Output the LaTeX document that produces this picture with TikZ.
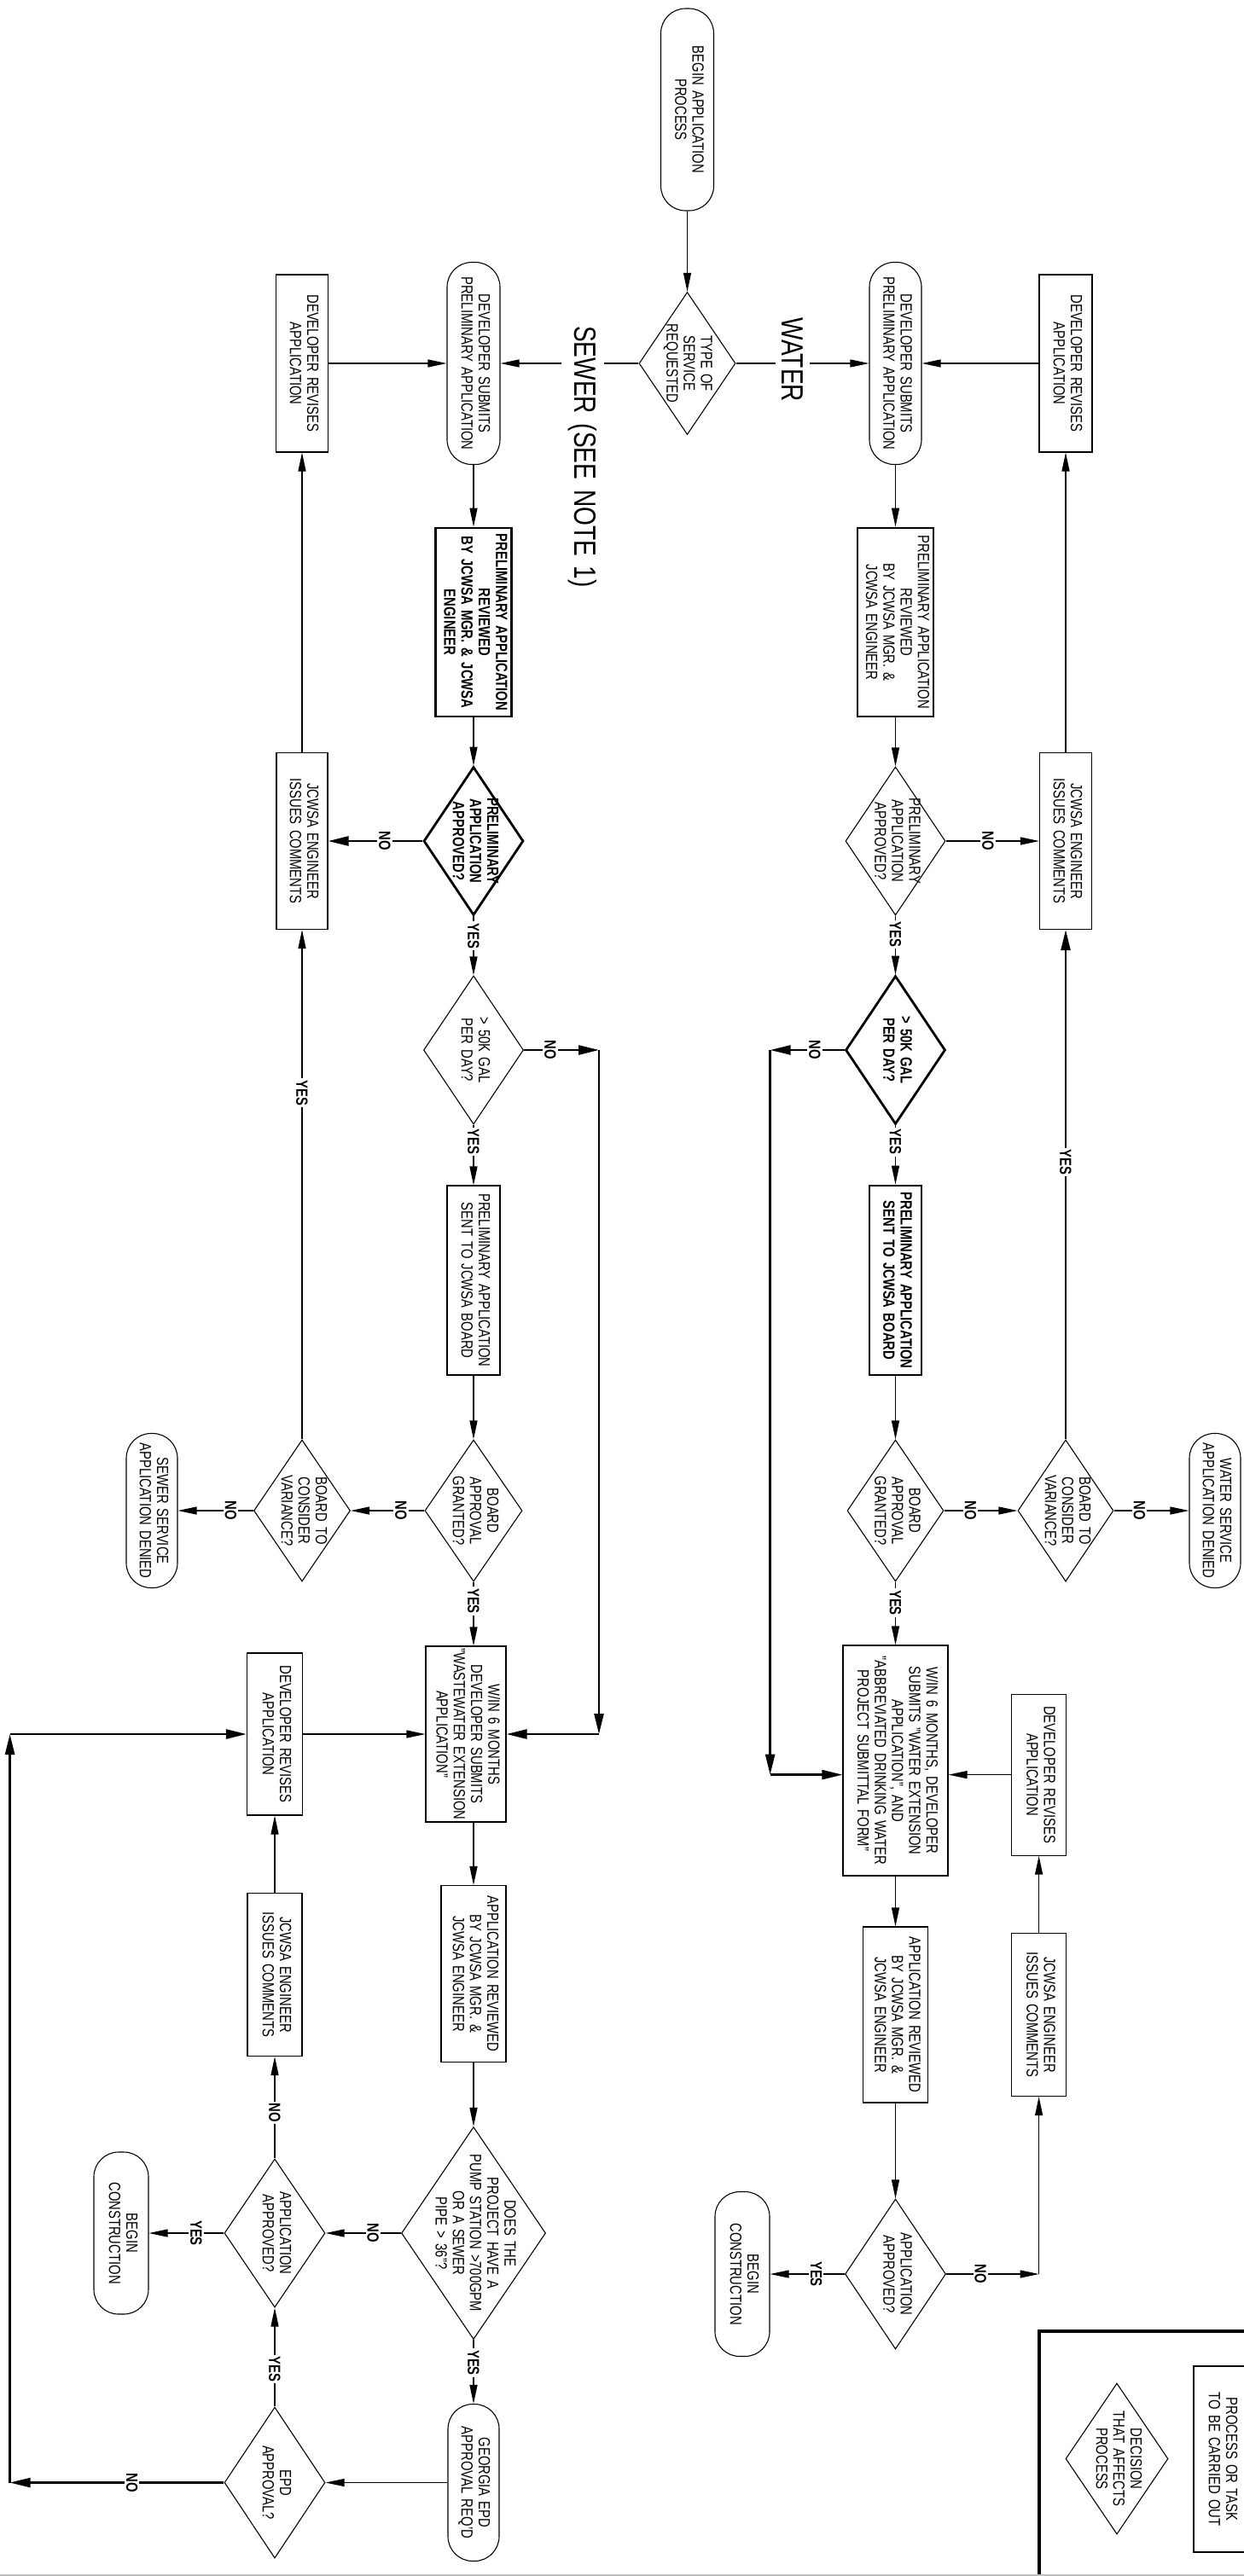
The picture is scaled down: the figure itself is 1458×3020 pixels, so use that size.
\documentclass[tikz,border=0pt]{standalone}
\usepackage{fontspec}
\setmainfont{Liberation Sans}[FakeStretch=0.78, WordSpace=1.5]
\usepackage{graphicx}
\usetikzlibrary{shapes.geometric,arrows.meta,calc}
\newcommand{\rtxt}[1]{\rotatebox{-90}{\begin{tabular}{@{}c@{}}#1\end{tabular}}}
\begin{document}
\begin{tikzpicture}[x=1pt,y=-1pt,
  base/.style={font=\fontsize{19}{20.2}\selectfont, inner sep=0pt},
  sz/.style 2 args={minimum width=#1pt, minimum height=#2pt},
  proc/.style={base, draw, line width=1.1pt, rectangle},
  procb/.style={proc, line width=2.8pt},
  term/.style={base, draw, line width=1.1pt, rectangle, rounded corners=29pt},
  dia/.style={base, draw, line width=1.1pt, diamond},
  diab/.style={dia, line width=2.8pt},
  txt/.style={base},
  btxt/.style={base, font=\fontsize{19}{20.2}\selectfont\bfseries},
  lab/.style={font=\fontsize{19}{20}\selectfont\bfseries, fill=white, inner sep=2pt, rotate=-90},
  big/.style={font=\fontsize{36}{38}\selectfont, fill=white, inner xsep=2pt, inner ysep=8pt, rotate=-90},
  arr/.style={line width=1.1pt, -{Triangle[length=22pt,width=9pt]}},
  arrb/.style={line width=2.4pt, -{Triangle[length=24pt,width=11pt]}}
]
\path[use as bounding box] (0,0) rectangle (1458,3020);
\clip (0,0) rectangle (1458,3020);

% ---------- top ----------
\node[term, sz={62}{237}] (begin) at (805.5,128.5) {\rtxt{BEGIN APPLICATION\\PROCESS}};
\node[dia, sz={113}{167}] (type) at (805.5,426) {};
\node[txt] (typet) at (type) {\rtxt{TYPE OF\\SERVICE\\REQUESTED}};

% ---------- water ----------
\node[term, sz={61}{237}] (wsub) at (1049.5,426) {\rtxt{DEVELOPER SUBMITS\\PRELIMINARY APPLICATION}};
\node[proc, sz={62}{208}] (wrev1) at (1249,426) {\rtxt{DEVELOPER REVISES\\APPLICATION}};
\node[procb, sz={89}{221}] (wrevd) at (1049.5,729.5) {\rtxt{PRELIMINARY APPLICATION\\REVIEWED\\BY JCWSA MGR. \&\\JCWSA ENGINEER}};
\node[dia, sz={117}{174}] (wpa) at (1049.5,986) {};
\node[txt] (wpat) at (wpa) {\rtxt{PRELIMINARY\\APPLICATION\\APPROVED?}};
\node[proc, sz={61}{207}] (wjc1) at (1249,986) {\rtxt{JCWSA ENGINEER\\ISSUES COMMENTS}};
\node[diab, sz={117}{174}] (w50) at (1049.5,1231) {};
\node[btxt] (w50t) at (w50) {\rtxt{> 50K GAL\\PER DAY?}};
\node[procb, sz={61}{222}, font=\fontsize{19}{20.2}\selectfont\bfseries] (wsent) at (1049.5,1501) {\rtxt{PRELIMINARY APPLICATION\\SENT TO JCWSA BOARD}};
\node[dia, sz={113}{166}] (wba) at (1049.5,1771) {};
\node[txt] (wbat) at (wba) {\rtxt{BOARD\\APPROVAL\\GRANTED?}};
\node[dia, sz={112}{166}] (wcv) at (1249,1771) {};
\node[txt] (wcvt) at (wcv) {\rtxt{BOARD TO\\CONSIDER\\VARIANCE?}};
\node[term, sz={60}{181}] (wden) at (1424,1771) {\rtxt{WATER SERVICE\\APPLICATION DENIED}};
\node[proc, sz={123}{270}] (wwin) at (1049.5,2064) {\rtxt{W/IN 6 MONTHS, DEVELOPER\\SUBMITS "WATER EXTENSION\\APPLICATION", AND\\"ABBREVIATED DRINKING WATER\\PROJECT SUBMITTAL FORM"}};
\node[proc, sz={64}{189}] (wrev2) at (1217.6,2080.6) {\rtxt{DEVELOPER REVISES\\APPLICATION}};
\node[proc, sz={75.5}{206}] (wrvw) at (1049.5,2362) {\rtxt{APPLICATION REVIEWED\\BY JCWSA MGR. \&\\JCWSA ENGINEER}};
\node[proc, sz={64}{191}] (wjc2) at (1217.6,2362) {\rtxt{JCWSA ENGINEER\\ISSUES COMMENTS}};
\node[dia, sz={118}{176}] (waa) at (1049.5,2666) {};
\node[txt] (waat) at (waa) {\rtxt{APPLICATION\\APPROVED?}};
\node[term, sz={64}{193}] (wbc) at (870,2666) {\rtxt{BEGIN\\CONSTRUCTION}};

% ---------- sewer ----------
\node[term, sz={62}{237}] (ssub) at (555,426) {\rtxt{DEVELOPER SUBMITS\\PRELIMINARY APPLICATION}};
\node[proc, sz={61}{208}] (srev1) at (354,426) {\rtxt{DEVELOPER REVISES\\APPLICATION}};
\node[procb, sz={89}{221}, font=\fontsize{19}{20.2}\selectfont\bfseries] (srevd) at (555,729.5) {\rtxt{PRELIMINARY APPLICATION\\REVIEWED\\BY JCWSA MGR. \& JCWSA\\ENGINEER}};
\node[diab, sz={117}{174}] (spa) at (555,986) {};
\node[btxt] (spat) at (spa) {\rtxt{PRELIMINARY\\APPLICATION\\APPROVED?}};
\node[proc, sz={60}{207}] (sjc1) at (354,986) {\rtxt{JCWSA ENGINEER\\ISSUES COMMENTS}};
\node[dia, sz={117}{174}] (s50) at (555,1231) {};
\node[txt] (s50t) at (s50) {\rtxt{> 50K GAL\\PER DAY?}};
\node[proc, sz={62}{222}] (ssent) at (555,1501) {\rtxt{PRELIMINARY APPLICATION\\SENT TO JCWSA BOARD}};
\node[dia, sz={114}{166}] (sba) at (555,1771) {};
\node[txt] (sbat) at (sba) {\rtxt{BOARD\\APPROVAL\\GRANTED?}};
\node[dia, sz={113}{166}] (scv) at (354,1771) {};
\node[txt] (scvt) at (scv) {\rtxt{BOARD TO\\CONSIDER\\VARIANCE?}};
\node[term, sz={60}{181}] (sden) at (178,1771) {\rtxt{SEWER SERVICE\\APPLICATION DENIED}};
\node[proc, sz={94}{206}] (swin) at (546,2033) {\rtxt{W/IN 6 MONTHS\\DEVELOPER SUBMITS\\"WASTEWATER EXTENSION\\APPLICATION"}};
\node[proc, sz={65}{190}] (srev2) at (322,2033) {\rtxt{DEVELOPER REVISES\\APPLICATION}};
\node[proc, sz={76}{207}] (srvw) at (555,2314) {\rtxt{APPLICATION REVIEWED\\BY JCWSA MGR. \&\\JCWSA ENGINEER}};
\node[proc, sz={64}{191}] (sjc2) at (322,2315) {\rtxt{JCWSA ENGINEER\\ISSUES COMMENTS}};
\node[dia, sz={169}{249}] (sdoes) at (555,2618) {};
\node[txt] (sdoest) at (sdoes) {\rtxt{DOES THE\\PROJECT HAVE A\\PUMP STATION >700GPM\\OR A SEWER\\PIPE > 36"?}};
\node[dia, sz={118}{174}] (saa) at (322,2618) {};
\node[txt] (saat) at (saa) {\rtxt{APPLICATION\\APPROVED?}};
\node[term, sz={64}{190}] (sbc) at (142,2618) {\rtxt{BEGIN\\CONSTRUCTION}};
\node[term, sz={60}{184}] (sgeo) at (555,2910.5) {\rtxt{GEORGIA EPD\\APPROVAL REQ'D}};
\node[dia, sz={118}{177}] (sepd) at (322,2910.5) {};
\node[txt] (sepdt) at (sepd) {\rtxt{EPD\\APPROVAL?}};

% ---------- legend ----------
\draw[line width=4pt] (1218,3040) -- (1218,2733) -- (1480,2733);
\node[dia, sz={120}{177}] (ldia) at (1309,2882.5) {};
\node[txt] (ldiat) at (ldia) {\rtxt{DECISION\\THAT AFFECTS\\PROCESS}};
\node[proc, sz={64}{218}] (lproc) at (1431,2883) {\rtxt{PROCESS OR TASK\\TO BE CARRIED OUT}};
\draw[black!25, line width=2pt] (0,3019) -- (1458,3019);

% ---------- connectors: top ----------
\draw[arr] (begin) -- (type);
\draw[arr] (type) -- (wsub);
\draw[arr] (type) -- (ssub);
\node[big] (watlab) at (929,422) {WATER};
\node[big] (sewlab) at (683,535.5) {SEWER (SEE NOTE 1)};

% ---------- connectors: water ----------
\draw[arr] (wrev1) -- (wsub);
\draw[arr] (wsub) -- (wrevd);
\draw[arr] (wrevd) -- (wpa);
\draw[arr] (wpa) -- node[lab,pos=0.45]{NO} (wjc1);
\draw[arr] (wjc1) -- (wrev1);
\draw[arr] (wpa) -- node[lab,pos=0.32]{YES} (w50);
\coordinate (wn1) at (902.6,1231);
\coordinate (wn2) at (902.6,2080.6);
\draw[arrb] (w50) -- node[lab,pos=0.4]{NO} (wn1);
\draw[arrb] (wn1) -- (wn2);
\draw[arrb] (wn2) -- (wn2 -| wwin.west);
\draw[arr] (w50) -- node[lab,pos=0.28]{YES} (wsent);
\draw[arr] (wsent) -- (wba);
\draw[arr] (wba) -- node[lab,pos=0.36]{NO} (wcv);
\draw[arrb] (wcv) -- node[lab,pos=0.544]{YES} (wjc1);
\draw[arr] (wcv) -- node[lab,pos=0.34]{NO} (wden);
\draw[arr] (wba) -- node[lab,pos=0.33]{YES} (wwin);
\draw[arr] (wrev2) -- (wrev2 -| wwin.east);
\draw[arr] (wwin) -- (wrvw);
\draw[arr] (wjc2) -- (wrev2);
\draw[arr] (wrvw) -- (waa);
\coordinate (wc) at (1217.6,2666);
\draw[arr] (waa) -- node[lab,pos=0.37]{NO} (wc);
\draw[arr] (wc) -- (wjc2);
\draw[arr] (waa) -- node[lab,pos=0.38]{YES} (wbc);

% ---------- connectors: sewer ----------
\draw[arr] (srev1) -- (ssub);
\draw[arr] (ssub) -- (srevd);
\draw[arr] (srevd) -- (spa);
\draw[arrb] (spa) -- node[lab,pos=0.40]{NO} (sjc1);
\draw[arr] (sjc1) -- (srev1);
\draw[arr] (spa) -- node[lab,pos=0.33]{YES} (s50);
\coordinate (sn1) at (702,1231);
\coordinate (sn2) at (702,2033);
\draw[arrb] (s50) -- node[lab,pos=0.35]{NO} (sn1);
\draw[arrb] (sn1) -- (sn2);
\draw[arrb] (sn2) -- (swin);
\draw[arr] (s50) -- node[lab,pos=0.28]{YES} (ssent);
\draw[arr] (ssent) -- (sba);
\draw[arr] (sba) -- node[lab,pos=0.32]{NO} (scv);
\draw[arr] (scv) -- node[lab,pos=0.68]{YES} (sjc1);
\draw[arr] (scv) -- node[lab,pos=0.30]{NO} (sden);
\draw[arr] (sba) -- node[lab,pos=0.30]{YES} (sba.south |- swin.north);
\draw[arr] (srev2) -- (swin);
\draw[arr] (srvw.north |- swin.south) -- (srvw);
\draw[arr] (sjc2) -- (srev2);
\draw[arr] (srvw) -- (sdoes);
\draw[arr] (sdoes) -- node[lab,pos=0.37]{NO} (saa);
\draw[arr] (saa) -- node[lab,pos=0.45]{NO} (sjc2);
\draw[arr] (saa) -- node[lab,pos=0.37]{YES} (sbc);
\draw[arr] (sdoes) -- node[lab,pos=0.36]{YES} (sgeo);
\draw[arr] (sgeo) -- (sepd);
\draw[arr] (sepd) -- node[lab,pos=0.38]{YES} (saa);
\coordinate (se1) at (11.6,2910.5);
\coordinate (se2) at (11.6,2033);
\draw[arrb] (sepd) -- node[lab,pos=0.43]{NO} (se1);
\draw[arrb] (se1) -- (se2);
\draw[arrb] (se2) -- (srev2);
\end{tikzpicture}
\end{document}
